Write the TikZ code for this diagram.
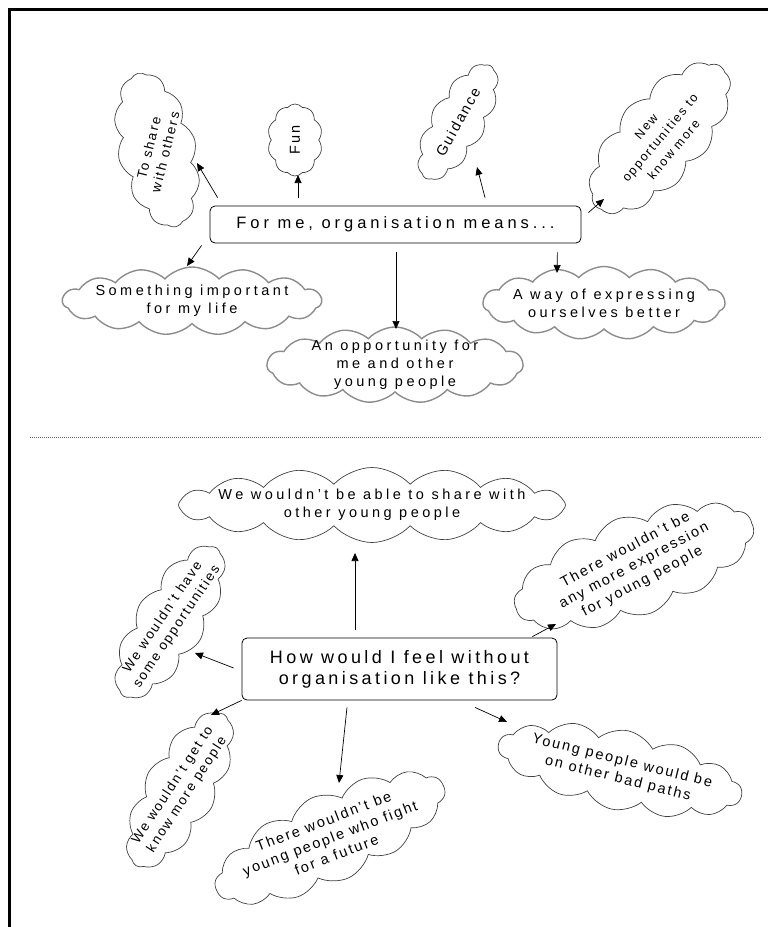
\documentclass[tikz,border=0pt]{standalone}
\usepackage{fontspec}
\setmainfont{Liberation Sans}[LetterSpace=14]
\newfontfamily\fwide{Liberation Sans}[LetterSpace=24]
\newfontfamily\fmid{Liberation Sans}[LetterSpace=19]
\usetikzlibrary{shapes.symbols,arrows.meta,calc}
\tikzset{
  cl/.style={cloud, cloud puffs=12, cloud puff arc=100, cloud ignores aspect, draw=black!75, line width=0.7pt, inner sep=0pt},
  clsoft/.style={cl, draw=black!45, line width=1.4pt, cloud puffs=15, cloud puff arc=95},
  ctext/.style={align=center, font=\fontsize{14.5}{18}\selectfont, inner sep=0pt},
  stext/.style={align=center, font=\fontsize{13.5}{17}\selectfont, inner sep=0pt},
  wtext/.style={align=center, font=\fwide\fontsize{14.5}{18}\selectfont, inner sep=0pt},
  mbox/.style={draw, rounded corners=5pt, line width=0.8pt, inner sep=0pt},
  arr/.style={-{Triangle[length=8pt,width=7pt]}, line width=0.7pt},
}
\begin{document}
\begin{tikzpicture}[x=1pt,y=-1pt]
\useasboundingbox (0,0) rectangle (768,927);
% frame
\draw[line width=2.5pt] (9.5,927) -- (9.5,9.5) -- (768,9.5);
% separator
\draw[black!60, line width=0.7pt, dash pattern=on 1pt off 1pt] (30,437) -- (762,437);

% ---------- top ----------
\node[mbox, minimum width=371pt, minimum height=37pt, font=\fwide\fontsize{16.5}{20}\selectfont] (b1) at (395.5,224.5) {For me, organisation means...};

\node[cl, minimum width=78pt, minimum height=158pt, rotate=14] (c1) at (157,150) {};
\node[stext, rotate=76] (t1) at (c1.center) {To share\\with others};
\node[cl, cloud puffs=10, minimum width=55pt, minimum height=72pt] (c2) at (295,140) {};
\node[ctext, rotate=90] (t2) at (c2.center) {Fun};
\node[cl, minimum width=55pt, minimum height=130pt, rotate=-30] (c3) at (458,122) {};
\node[ctext, rotate=61] (t3) at (c3.center) {Guidance};
\node[cl, cloud puffs=13, minimum width=188pt, minimum height=88pt, rotate=48] (c4) at (660,138) {};
\node[align=center, inner sep=0pt, font=\fontsize{12.5}{18}\selectfont, rotate=50] (t4) at (c4.center) {New\\opportunities to\\know more};
\node[clsoft, minimum width=259pt, minimum height=68pt] (c5) at (192,301) {};
\node[wtext] (t5) at (c5.center) {Something important\\for my life};
\node[clsoft, minimum width=256pt, minimum height=76pt] (c6) at (395,365) {};
\node[wtext] (t6) at (c6.center) {An opportunity for\\me and other\\young people};
\node[clsoft, minimum width=242pt, minimum height=73pt] (c7) at (604,303) {};
\node[wtext] (t7) at (c7.center) {A way of expressing\\ourselves better};

\draw[arr] ($(b1.north west)+(8,-8)$) -- ($(c1.center)+(40,13)$);
\draw[arr] ($(b1.north)+(-97.5,-8)$) -- ($(c2.center)+(3,35)$);
\draw[arr] ($(b1.north)+(89.5,-8)$) -- ($(c3.center)+(19,45)$);
\draw[arr] ($(b1.north east)+(7,7)$) -- ($(c4.center)+(-56,61)$);
\draw[arr] ($(b1.south west)+(-8,2)$) -- ($(c5.center)+(-5,-35)$);
\draw[arr] ($(b1.south)+(0.5,9)$) -- ($(c6.center)+(1,-36)$);
\draw[arr] ($(b1.south east)+(-24,9)$) -- ($(c7.center)+(-47,-30)$);

% ---------- bottom ----------
\node[mbox, minimum width=315pt, minimum height=62pt, align=center, font=\fmid\fontsize{18}{21}\selectfont] (b2) at (399.5,669) {How would I feel without\\organisation like this?};

\node[cl, cloud puffs=16, cloud puff arc=95, minimum width=387pt, minimum height=75pt] (c8) at (372,505) {};
\node[wtext] (t8) at (c8.center) {We wouldn’t be able to share with\\other young people};
\node[cl, minimum width=175pt, minimum height=70pt, rotate=58] (c9) at (170,622) {};
\node[stext, rotate=56] (t9) at (c9.center) {We wouldn’t have\\some opportunities};
\node[cl, minimum width=175pt, minimum height=72pt, rotate=60] (c10) at (180,790) {};
\node[stext, rotate=57] (t10) at (c10.center) {We wouldn’t get to\\know more people};
\node[cl, cloud puffs=14, minimum width=250pt, minimum height=88pt, rotate=25] (c11) at (330,838) {};
\node[ctext, rotate=21] (t11) at (c11.center) {There wouldn’t be\\young people who fight\\for a future};
\node[cl, cloud puffs=14, minimum width=248pt, minimum height=80pt, rotate=-12] (c12) at (620,770) {};
\node[ctext, rotate=-14] (t12) at (c12.center) {Young people would be\\on other bad paths};
\node[cl, cloud puffs=14, minimum width=252pt, minimum height=100pt, rotate=20] (c13) at (634,566) {};
\node[ctext, rotate=28] (t13) at (c13.center) {There wouldn’t be\\any more expression\\for young people};

\draw[arr] ($(b2.north)+(-44.5,-8)$) -- ($(c8.center)+(-17,48)$);
\draw[arr] ($(b2.west)+(-8,-1)$) -- ($(c9.center)+(25,31)$);
\draw[arr] (b2.south west) -- ($(c10.center)+(31,-75)$);
\draw[arr] ($(b2.south)+(-52.5,7)$) -- ($(c11.center)+(9,-55)$);
\draw[arr] ($(b2.south)+(75.5,7)$) -- ($(c12.center)+(-113,-48)$);
\draw[arr] ($(b2.north east)+(-25,-1)$) -- ($(c13.center)+(-78,58)$);
\end{tikzpicture}
\end{document}
